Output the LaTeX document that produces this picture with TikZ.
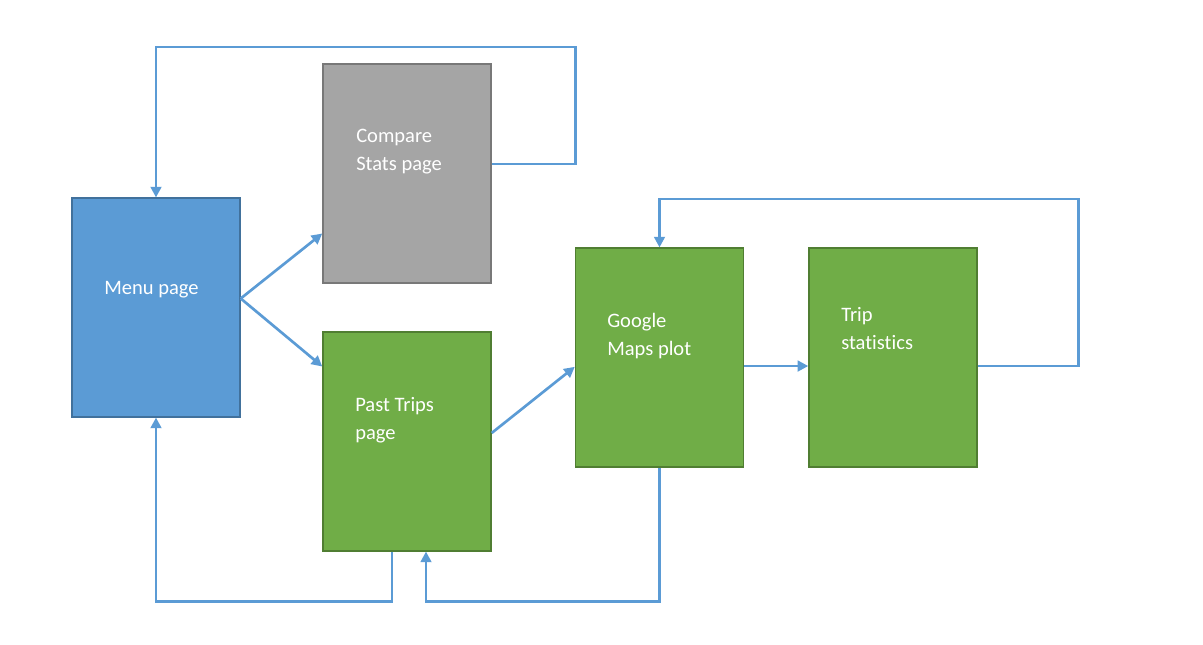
\documentclass[tikz,border=0pt]{standalone}
\usepackage{fontspec}
\setmainfont{Carlito}[Ligatures=CommonOff]
\usepackage{tikz}
\usetikzlibrary{arrows.meta}

\definecolor{menublue}{HTML}{5B9BD5}
\definecolor{menuedge}{HTML}{41719C}
\definecolor{cmpgray}{HTML}{A5A5A5}
\definecolor{cmpedge}{HTML}{787878}
\definecolor{tripgreen}{HTML}{70AD47}
\definecolor{tripedge}{HTML}{507E32}

\tikzset{
  page/.style={draw,line width=1.1pt,minimum width=126pt,minimum height=164pt,inner sep=0pt},
  pagetext/.style={anchor=west,align=left,text=white,inner sep=0pt,
    font=\fontsize{15.4pt}{21pt}\selectfont},
  link/.style={draw=menublue,line width=2pt,
    -{Triangle[length=8pt,width=8pt]}}
}

\begin{document}
\begin{tikzpicture}[x=0.75pt,y=-0.75pt]
  \useasboundingbox (0,0) rectangle (1203,645);
  % pages
  \node[page,fill=menublue,draw=menuedge] (menu) at (156,307.5) {};
  \node[page,fill=cmpgray,draw=cmpedge] (compare) at (407,173.5) {};
  \node[page,fill=tripgreen,draw=tripedge] (past) at (407,441.5) {};
  \node[page,fill=tripgreen,draw=tripedge] (maps) at (659.5,357.5) {};
  \node[page,fill=tripgreen,draw=tripedge] (stats) at (893,357.5) {};
  % labels
  \node[pagetext] (menutxt) at (104,289.5) {Menu page};
  \node[pagetext] (comparetxt) at (356,151.5) {Compare\\Stats page};
  \node[pagetext] (pasttxt) at (355,420) {Past Trips\\page};
  \node[pagetext] (mapstxt) at (607,336) {Google\\Maps plot};
  \node[pagetext] (statstxt) at (841,328.5) {Trip\\statistics};
  % connectors
  \draw[link] ([yshift=6.75pt]menu.east) -- ([yshift=-45pt]compare.west);
  \draw[link] ([yshift=6.75pt]menu.east) -- ([yshift=56.25pt]past.west);
  \draw[link] ([yshift=7pt]compare.east) -- ++(84,0) -- ++(0,-117) -| (menu.north);
  \draw[link] ([xshift=-11.25pt]past.south) -- ++(0,50) -| (menu.south);
  \draw[link] ([yshift=6.4pt]past.east) -- ([yshift=-7pt]maps.west);
  \draw[link] ([yshift=-6.4pt]maps.east) -- ([yshift=-6.4pt]stats.west);
  \draw[link] ([yshift=-6.4pt]stats.east) -- ++(101,0) -- ++(0,-167) -| (maps.north);
  \draw[link] (maps.south) -- ++(0,134) -| ([xshift=14.25pt]past.south);
\end{tikzpicture}
\end{document}
